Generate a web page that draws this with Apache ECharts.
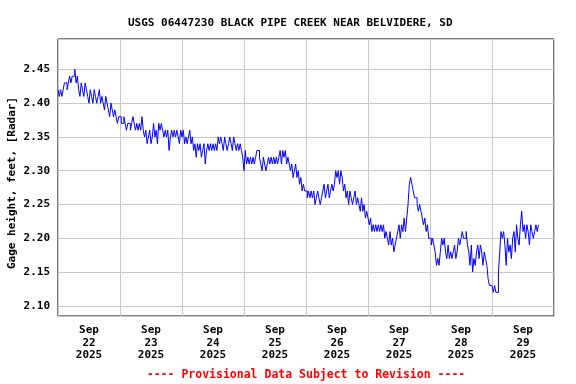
<!DOCTYPE html>
<html>
<head>
<meta charset="utf-8">
<script src="https://cdn.jsdelivr.net/npm/echarts@6/dist/echarts.min.js"></script>
<style>html,body{margin:0;padding:0;background:#fff;}#c{width:576px;height:384px;}</style>
</head>
<body>
<div id="c"></div>
<script>
// Gage height (feet), half-hourly readings starting at 00:00 of each day
const sep22 = [2.42,2.41,2.42,2.41,2.42,2.43,2.43,2.42,2.43,2.44,2.43,2.44,2.44,2.45,2.43,2.44,2.42,2.41,2.43,2.42,2.41,2.43,2.42,2.41,
               2.40,2.42,2.41,2.40,2.42,2.41,2.40,2.41,2.42,2.40,2.41,2.40,2.39,2.41,2.40,2.39,2.38,2.40,2.39,2.38,2.39,2.38,2.37,2.38];
const sep23 = [2.38,2.37,2.37,2.38,2.37,2.36,2.37,2.37,2.36,2.37,2.38,2.37,2.36,2.37,2.36,2.37,2.36,2.38,2.36,2.35,2.36,2.34,2.35,2.36,
               2.34,2.35,2.37,2.35,2.36,2.34,2.37,2.36,2.37,2.36,2.35,2.36,2.35,2.36,2.33,2.35,2.36,2.35,2.36,2.35,2.36,2.35,2.34,2.36];
const sep24 = [2.35,2.36,2.34,2.35,2.34,2.35,2.36,2.34,2.35,2.33,2.34,2.32,2.34,2.33,2.34,2.32,2.33,2.34,2.31,2.33,2.34,2.33,2.34,2.33,
               2.34,2.33,2.34,2.33,2.35,2.34,2.35,2.34,2.33,2.35,2.34,2.33,2.34,2.35,2.34,2.33,2.35,2.34,2.33,2.34,2.33,2.34,2.33,2.32];
const sep25 = [2.30,2.33,2.31,2.32,2.31,2.32,2.31,2.32,2.31,2.32,2.33,2.33,2.32,2.31,2.30,2.32,2.31,2.30,2.31,2.32,2.31,2.32,2.31,2.32,
               2.31,2.32,2.31,2.32,2.33,2.31,2.33,2.32,2.33,2.31,2.32,2.31,2.30,2.31,2.29,2.30,2.31,2.29,2.30,2.28,2.29,2.27,2.28,2.27];
const sep26 = [2.27,2.26,2.27,2.26,2.27,2.26,2.27,2.25,2.26,2.27,2.26,2.25,2.26,2.27,2.28,2.26,2.27,2.28,2.26,2.27,2.28,2.27,2.28,2.30,
               2.29,2.30,2.28,2.30,2.29,2.27,2.28,2.26,2.27,2.25,2.27,2.26,2.25,2.26,2.27,2.25,2.26,2.25,2.24,2.26,2.24,2.25,2.23,2.24];
const sep27 = [2.23,2.22,2.23,2.21,2.22,2.21,2.22,2.21,2.22,2.21,2.22,2.21,2.22,2.20,2.21,2.20,2.19,2.21,2.19,2.20,2.18,2.19,2.20,2.21,
               2.22,2.20,2.22,2.21,2.23,2.21,2.23,2.25,2.28,2.29,2.28,2.27,2.26,2.26,2.25,2.24,2.25,2.24,2.23,2.22,2.23,2.21,2.22,2.20];
const sep28 = [2.20,2.19,2.20,2.19,2.18,2.16,2.17,2.16,2.18,2.20,2.19,2.20,2.18,2.17,2.19,2.17,2.18,2.17,2.18,2.19,2.17,2.18,2.20,2.19,
               2.20,2.21,2.20,2.20,2.21,2.19,2.18,2.16,2.19,2.15,2.17,2.16,2.18,2.19,2.17,2.19,2.18,2.16,2.18,2.17,2.16,2.14,2.13,2.13];
const sep29 = [2.13,2.12,2.13,2.12,2.12,2.15,2.18,2.21,2.20,2.21,2.19,2.16,2.20,2.18,2.19,2.17,2.20,2.21,2.18,2.22,2.20,2.19,2.22,2.24,
               2.21,2.22,2.20,2.22,2.21,2.19,2.22,2.21,2.20,2.21,2.22,2.21,2.22];

const days = [sep22, sep23, sep24, sep25, sep26, sep27, sep28, sep29];
const dayLabels = ['Sep\n22\n2025','Sep\n23\n2025','Sep\n24\n2025','Sep\n25\n2025','Sep\n26\n2025','Sep\n27\n2025','Sep\n28\n2025','Sep\n29\n2025'];
const titleText = 'USGS 06447230 BLACK PIPE CREEK NEAR BELVIDERE, SD';
const yName = 'Gage height, feet, [Radar]';
const footer = '---- Provisional Data Subject to Revision ----';

const data = [];
days.forEach((arr, d) => arr.forEach((v, i) => data.push([d * 24 + i * 0.5, v])));

const FONT = '"DejaVu Sans Mono", "Liberation Mono", monospace';
const chart = echarts.init(document.getElementById('c'));
chart.setOption({
  animation: false,
  backgroundColor: '#fff',
  title: {
    text: titleText, left: 123, top: 13,
    textStyle: { fontFamily: FONT, fontWeight: 'bold', fontSize: 11, color: '#000' }
  },
  grid: { left: 58, top: 39, right: 22, bottom: 68, show: true, borderColor: '#000', borderWidth: 1, backgroundColor: 'transparent' },
  xAxis: [{
    type: 'value', min: 0, max: 192, interval: 24,
    axisLine: { show: false }, axisTick: { show: false }, axisLabel: { show: false },
    splitLine: { show: true, lineStyle: { color: '#c8c8c8', width: 1 } }
  }, {
    type: 'value', min: 0, max: 192, interval: 12, position: 'bottom',
    axisLine: { show: false }, axisTick: { show: false }, splitLine: { show: false },
    axisLabel: {
      margin: 8, lineHeight: 12.5, fontFamily: FONT, fontWeight: 'bold', fontSize: 11, color: '#000',
      showMinLabel: true, showMaxLabel: true,
      formatter: v => (v % 24 === 12 ? dayLabels[(v - 12) / 24] : '')
    }
  }],
  yAxis: {
    type: 'value', min: 2.085, max: 2.495, splitNumber: 8,
    axisLine: { show: false }, axisTick: { show: false },
    axisLabel: {
      margin: 8, fontFamily: FONT, fontWeight: 'bold', fontSize: 11, color: '#000',
      showMinLabel: false, showMaxLabel: false,
      formatter: v => (Math.abs(v * 20 - Math.round(v * 20)) < 1e-6 ? v.toFixed(2) : '')
    },
    splitLine: { show: true, lineStyle: { color: '#c8c8c8', width: 1 } }
  },
  graphic: [{
    type: 'text', x: 12, y: 183, rotation: Math.PI / 2,
    style: { text: yName, fill: '#000', font: 'bold 11px ' + FONT, align: 'center', verticalAlign: 'middle' }
  }, {
    type: 'text', x: 306, y: 375,
    style: { text: footer, fill: '#ff0000', font: 'bold 11.5px ' + FONT, align: 'center', verticalAlign: 'middle' }
  }],
  series: [{
    type: 'line', xAxisIndex: 0, data: data, step: 'end', showSymbol: false,
    lineStyle: { color: '#0000ff', width: 1 }
  }]
});
</script>
</body>
</html>
